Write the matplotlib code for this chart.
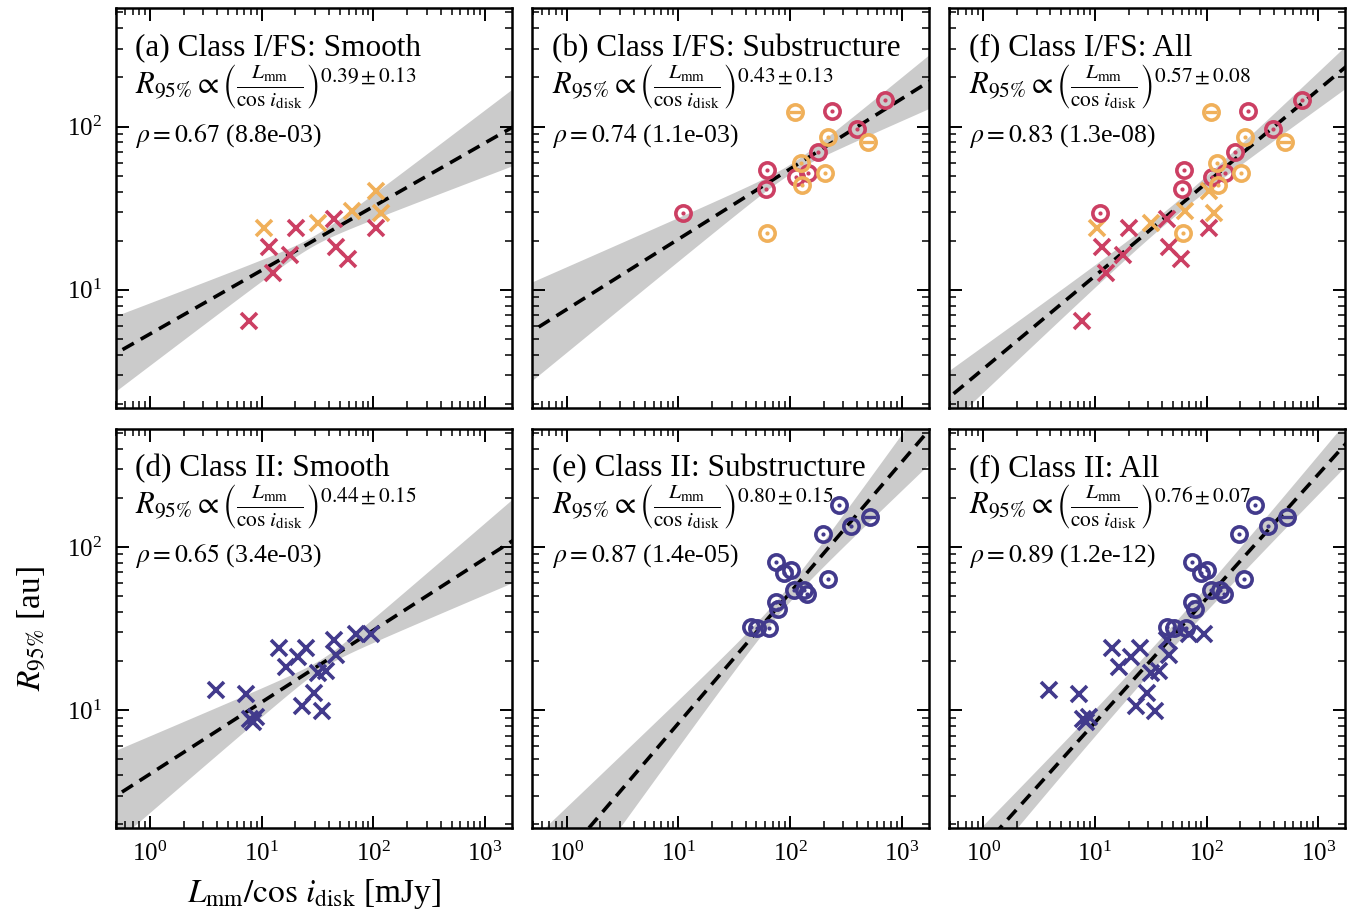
import numpy as np
import matplotlib
matplotlib.use('Agg')
import matplotlib.pyplot as plt

plt.rcParams['font.family'] = 'serif'
plt.rcParams['font.serif'] = ['Liberation Serif', 'DejaVu Serif']
plt.rcParams['mathtext.fontset'] = 'stix'
plt.rcParams['axes.linewidth'] = 1.8

# colours
RED = '#cc3f63'
ORANGE = '#f0b05a'
PURPLE = '#423a8c'

# Class I/FS, smooth disks (x = L_mm / cos i [mJy], y = R95 [au])
ci_smooth_x = [11.6, 20.1, 17.8, 12.6, 44.0, 45.8, 59.0, 106.0, 7.7]
ci_smooth_y = [18.2, 23.8, 16.3, 12.7, 27.0, 18.2, 15.4, 24.0, 6.47]
fs_smooth_x = [10.4, 31.8, 64.5, 106.0, 117.0]
fs_smooth_y = [24.0, 25.7, 30.3, 40.3, 29.4]

# Class I/FS, disks with substructure
ci_sub_x = [11.1, 62.8, 60.7, 236.0, 715.0, 394.0, 179.0, 112.0, 146.0]
ci_sub_y = [29.4, 54.4, 41.7, 125.0, 145.0, 97.0, 70.0, 49.0, 52.0]
fs_sub_x = [110.0, 500.0, 220.0, 124.5, 127.0, 204.0, 62.0]
fs_sub_y = [122.0, 80.0, 86.0, 60.0, 43.7, 52.0, 22.3]
fs_sub_bar = [True, True, False, False, False, False, False]

# Class II, smooth disks
cii_smooth_x = [3.88, 7.2, 7.8, 8.8, 8.4, 14.3, 16.4, 21.1, 25.1, 23.1,
                29.1, 31.8, 37.3, 34.8, 44.0, 46.4, 70.0, 95.3]
cii_smooth_y = [13.4, 12.5, 8.9, 9.1, 8.5, 23.9, 18.3, 21.1, 23.9, 10.6,
                12.8, 16.8, 17.4, 9.9, 27.1, 21.7, 29.5, 29.5]

# Class II, disks with substructure
cii_sub_x = [274.0, 525.0, 353.0, 197.0, 74.5, 88.4, 101.4, 218.0, 108.6,
             133.0, 143.0, 74.5, 78.7, 44.6, 51.1, 65.0]
cii_sub_y = [181.0, 153.5, 134.5, 119.7, 81.3, 69.0, 72.3, 63.4, 54.4,
             54.4, 51.5, 46.2, 41.5, 32.4, 31.7, 31.7]
cii_sub_bar = [False, True] + [False] * 14

# panel titles and fit results: slope, slope error, log intercept, rho, p-value
titles = ['(a) Class I/FS: Smooth', '(b) Class I/FS: Substructure', '(f) Class I/FS: All',
          '(d) Class II: Smooth', '(e) Class II: Substructure', '(f) Class II: All']
slopes = [0.39, 0.43, 0.57, 0.44, 0.80, 0.76]
slope_errs = [0.13, 0.13, 0.08, 0.15, 0.15, 0.07]
intercepts = [0.73, 0.88, 0.515, 0.61, 0.12, 0.165]
pivots = [1.45, 2.0, 1.7, 1.55, 1.9, 1.6]
intercept_errs = [0.03, 0.03, 0.04, 0.03, 0.05, 0.07]
rhos = ['0.67', '0.74', '0.83', '0.65', '0.87', '0.89']
pvals = ['8.8e-03', '1.1e-03', '1.3e-08', '3.4e-03', '1.4e-05', '1.2e-12']

xlim = (0.49, 1750)
ylim = (1.9, 530)


def plot_smooth(ax, x, y, color):
    ax.plot(x, y, 'x', color=color, ms=11, mew=2.6, zorder=3)


def plot_sub(ax, x, y, color, bar=None):
    ax.plot(x, y, 'o', mfc='none', mec=color, ms=11, mew=2.6, zorder=4)
    if bar is None:
        bar = [False] * len(x)
    xb = np.array(x)
    yb = np.array(y)
    mask = np.array(bar)
    ax.plot(xb[~mask], yb[~mask], '.', color=color, ms=4, zorder=4)
    ax.plot(xb[mask], yb[mask], '_', color=color, ms=8, mew=2.4, zorder=4)


fig, axes = plt.subplots(2, 3, figsize=(13.59, 9.19), dpi=100, sharex=True, sharey=True)
plt.subplots_adjust(left=0.085, right=0.99, top=0.991, bottom=0.099, wspace=0.05, hspace=0.053)

# top row: Class I/FS
plot_smooth(axes[0, 0], ci_smooth_x, ci_smooth_y, RED)
plot_smooth(axes[0, 0], fs_smooth_x, fs_smooth_y, ORANGE)
plot_sub(axes[0, 1], ci_sub_x, ci_sub_y, RED)
plot_sub(axes[0, 1], fs_sub_x, fs_sub_y, ORANGE, fs_sub_bar)
plot_smooth(axes[0, 2], ci_smooth_x, ci_smooth_y, RED)
plot_smooth(axes[0, 2], fs_smooth_x, fs_smooth_y, ORANGE)
plot_sub(axes[0, 2], ci_sub_x, ci_sub_y, RED)
plot_sub(axes[0, 2], fs_sub_x, fs_sub_y, ORANGE, fs_sub_bar)

# bottom row: Class II
plot_smooth(axes[1, 0], cii_smooth_x, cii_smooth_y, PURPLE)
plot_sub(axes[1, 1], cii_sub_x, cii_sub_y, PURPLE, cii_sub_bar)
plot_smooth(axes[1, 2], cii_smooth_x, cii_smooth_y, PURPLE)
plot_sub(axes[1, 2], cii_sub_x, cii_sub_y, PURPLE, cii_sub_bar)

logx = np.linspace(np.log10(xlim[0]) - 0.1, np.log10(xlim[1]) + 0.1, 300)
for i, ax in enumerate(axes.flat):
    # power-law fit with 1-sigma band
    logy = intercepts[i] + slopes[i] * logx
    half = np.sqrt(intercept_errs[i] ** 2 + (slope_errs[i] * (logx - pivots[i])) ** 2)
    ax.fill_between(10 ** logx, 10 ** (logy - half), 10 ** (logy + half),
                    color='#cbcbcb', lw=0, zorder=1)
    ax.plot(10 ** logx, 10 ** logy, '--', color='k', lw=2.6, dashes=(3.6, 2.2), zorder=2)

    ax.text(0.05, 0.90, titles[i], transform=ax.transAxes, fontsize=22.5, va='center')
    expo = '{%.2f\\pm%.2f}' % (slopes[i], slope_errs[i])
    eq = r'$R_{95\%}\propto\left(\frac{L_{\rm mm}}{\cos\,i_{\rm disk}}\right)^' + expo + '$'
    ax.text(0.05, 0.805, eq, transform=ax.transAxes, fontsize=22, va='center')
    ax.text(0.05, 0.68, r'$\rho=' + rhos[i] + '$ (' + pvals[i] + ')',
            transform=ax.transAxes, fontsize=18.5, va='center')

    ax.set_xscale('log')
    ax.set_yscale('log')
    ax.set_xlim(*xlim)
    ax.set_ylim(*ylim)
    ax.tick_params(which='both', direction='in', top=True, right=True, labelsize=18)
    ax.tick_params(which='major', length=9, width=1.4, pad=10)
    ax.tick_params(which='minor', length=5, width=1.1)

axes[1, 0].set_xlabel(r'$L_{\rm mm}/\cos\,i_{\rm disk}$ [mJy]', fontsize=24, labelpad=8)
axes[1, 0].set_ylabel(r'$R_{95\%}$ [au]', fontsize=24, labelpad=13)

plt.savefig('out.png', dpi=100)
